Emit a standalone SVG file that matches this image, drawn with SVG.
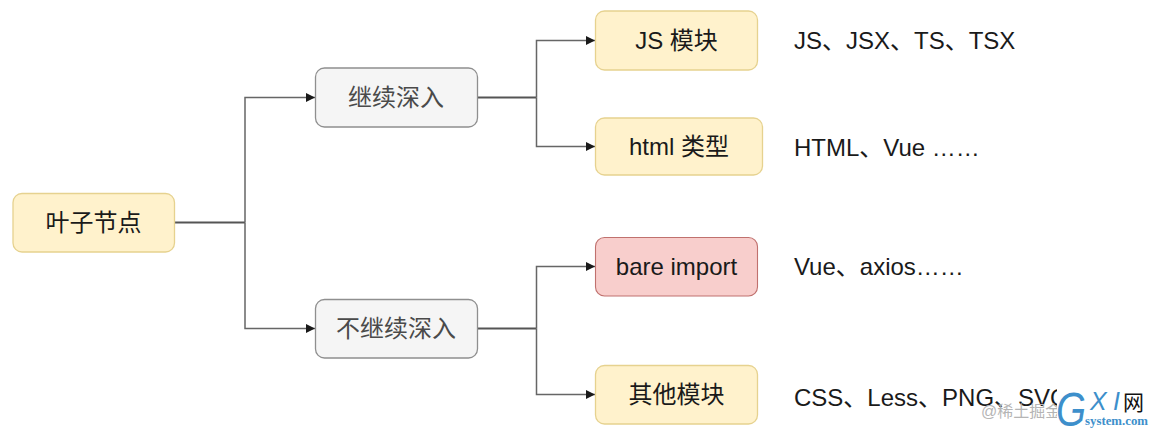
<svg xmlns="http://www.w3.org/2000/svg" width="1153" height="429" viewBox="0 0 1153 429">
<style>
text{font-family:"Liberation Sans","Noto Sans CJK SC",sans-serif;font-size:24px;fill:#1a1a1a}
.c{text-anchor:middle}
.y{fill:#fff2cc;stroke:#e6d28f;stroke-width:1.3}
.g{fill:#f5f5f5;stroke:#8f8f8f;stroke-width:1.3}
.r{fill:#f8cecc;stroke:#c0716e;stroke-width:1.1}
.l{fill:none;stroke:#666;stroke-width:1.5}
.s{fill:none;stroke:#555;stroke-width:2}
.t{fill:#4a4a4a}
.b{font-style:italic;fill:#3d8fcb}
</style>
<defs><marker id="a" markerUnits="userSpaceOnUse" markerWidth="10" markerHeight="10" refX="9" refY="5" orient="auto"><path d="M0 .5L9 5L0 9.500Z" fill="#1a1a1a"/></marker></defs>
<rect width="1153" height="429" fill="#fff"/>
<g id="connectors">
<path class="s" d="M175 222.500H245"/>
<path class="l" d="M245 222.500V97.500H315" marker-end="url(#a)"/>
<path class="l" d="M245 222.500V328.500H315" marker-end="url(#a)"/>
<path class="s" d="M478 97.500H536.500"/>
<path class="l" d="M536.500 97.500V40.500H595" marker-end="url(#a)"/>
<path class="l" d="M536.500 97.500V146.500H595" marker-end="url(#a)"/>
<path class="s" d="M478 328.500H536.500"/>
<path class="l" d="M536.500 328.500V266.500H595" marker-end="url(#a)"/>
<path class="l" d="M536.500 328.500V394.500H595" marker-end="url(#a)"/>
</g>
<g id="leaf"><rect class="y" x="13" y="193.500" width="161.500" height="58.500" rx="9"/><text class="c" x="93.500" y="231">叶子节点</text></g>
<g id="continue"><rect class="g" x="315.500" y="68" width="162" height="59" rx="9"/><text class="c t" x="396" y="106">继续深入</text></g>
<g id="stop"><rect class="g" x="315.500" y="299.500" width="162" height="58.500" rx="9"/><text class="c t" x="396" y="337">不继续深入</text></g>
<g id="js"><rect class="y" x="595.500" y="11" width="162" height="59" rx="9"/><text class="c" x="676.500" y="49">JS 模块</text></g>
<g id="html"><rect class="y" x="595.500" y="118" width="167" height="57" rx="9"/><text class="c" x="679" y="155">html 类型</text></g>
<g id="bare"><rect class="r" x="595.500" y="237.500" width="162" height="58.500" rx="9"/><text class="c" x="676.500" y="275">bare import</text></g>
<g id="other"><rect class="y" x="595.500" y="365.500" width="162" height="58.500" rx="9"/><text class="c" x="676.500" y="403">其他模块</text></g>
<text x="794" y="49">JS、JSX、TS、TSX</text>
<text x="794" y="156">HTML、Vue ……</text>
<text x="794" y="275">Vue、axios……</text>
<text x="794" y="406">CSS、Less、PNG、SVG</text>
<text x="981" y="417" style="font-size:16px;fill:#b5b5b5">@稀土掘金</text>
<rect x="1057" y="375" width="96" height="54" fill="#fff"/>
<text class="b" x="1056" y="426" textLength="30" lengthAdjust="spacingAndGlyphs" style="font-size:48px">G</text>
<text class="b" x="1090" y="410" style="font-size:25px">X</text>
<text class="b" x="1113" y="410" style="font-size:25px">I</text>
<text x="1123" y="410" style="font-size:21px;fill:#111">网</text>
<text x="1085" y="425" textLength="63" lengthAdjust="spacingAndGlyphs" style="font-size:12px;font-weight:bold;font-family:'Liberation Serif',serif;fill:#3d8fcb">system.com</text>
</svg>
